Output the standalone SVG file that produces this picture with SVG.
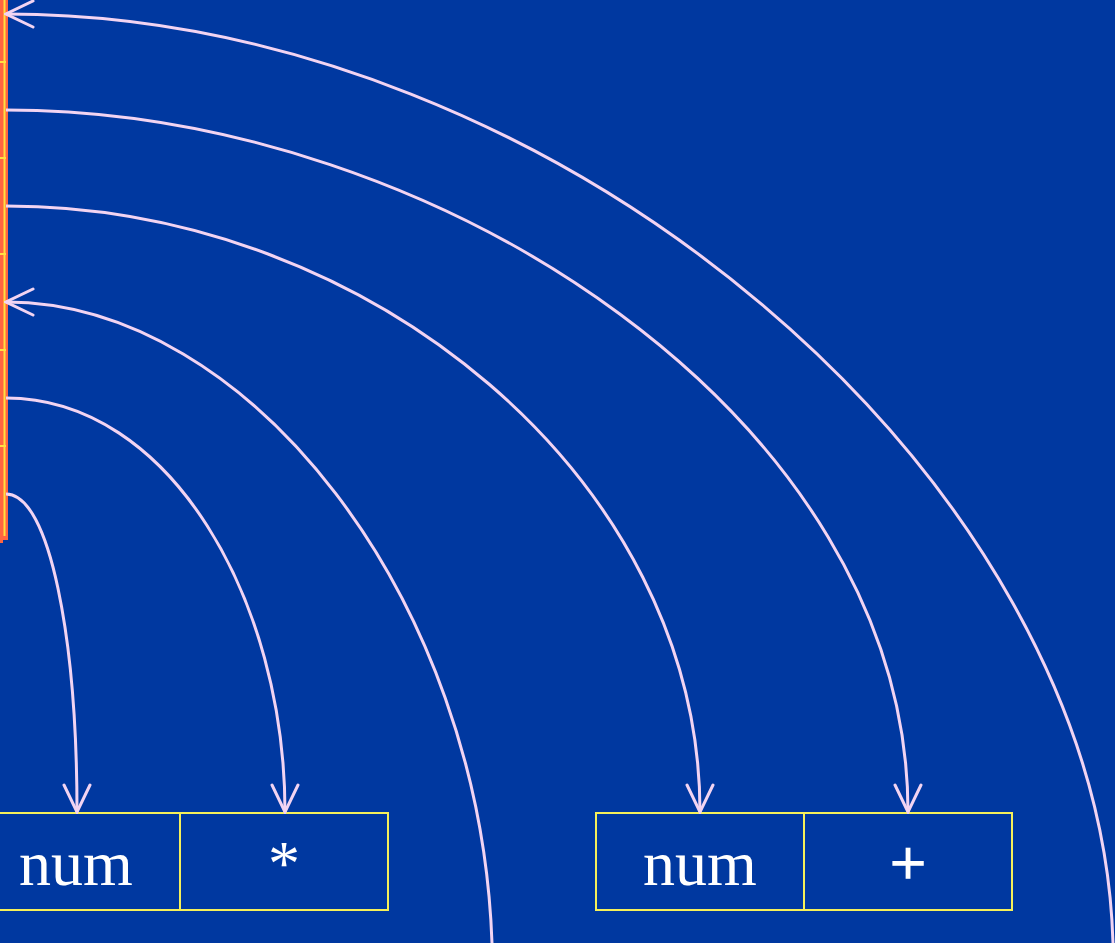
<svg xmlns="http://www.w3.org/2000/svg" width="1115" height="943" viewBox="0 0 1115 943">
<style>
.c{fill:none;stroke:#F2D4F2;stroke-width:3;}
.b{fill:none;stroke:#F5F05A;stroke-width:2;}
.t{font-family:"Liberation Serif","Times New Roman",serif;font-size:64px;fill:#FFFFFF;text-anchor:middle;}
</style>
<defs>
<marker id="ah" viewBox="-30 -15 32 30" refX="0" refY="0" markerWidth="32" markerHeight="30" markerUnits="userSpaceOnUse" orient="auto">
<path d="M-27,-13 L0,0 L-27,13" fill="none" stroke="#F2D4F2" stroke-width="3" stroke-linecap="round"/>
</marker>
</defs>
<rect width="1115" height="943" fill="#0038A0"/>
<g id="stack">
<rect x="0" y="0" width="8" height="540" fill="#FF6640"/>
<rect x="0" y="540" width="3" height="3" fill="#FF6640"/>
<line x1="4.5" y1="0" x2="4.5" y2="536" stroke="#FFE040" stroke-width="2"/>
<g stroke="#FFE040" stroke-width="2">
<line x1="0" y1="62" x2="6" y2="62"/>
<line x1="0" y1="158" x2="6" y2="158"/>
<line x1="0" y1="254" x2="6" y2="254"/>
<line x1="0" y1="350" x2="6" y2="350"/>
<line x1="0" y1="446" x2="6" y2="446"/>
</g>
</g>
<g id="box1">
<rect class="b" x="-30" y="813" width="210" height="97"/>
<text class="t" x="76" y="885">num</text>
</g>
<g id="box2">
<rect class="b" x="180" y="813" width="208" height="97"/>
<text class="t" x="284" y="885">*</text>
</g>
<g id="box3">
<rect class="b" x="596" y="813" width="208" height="97"/>
<text class="t" x="700" y="885">num</text>
</g>
<g id="box4">
<rect class="b" x="804" y="813" width="208" height="97"/>
<text class="t" x="908" y="885" stroke="#FFFFFF" stroke-width="1.5">+</text>
</g>
<g id="connectors">
<path class="c" d="M1113,943 C1100,480 560,14 6,14" marker-end="url(#ah)"/>
<path class="c" d="M6,110 C440,110 908,420 908,812" marker-end="url(#ah)"/>
<path class="c" d="M6,206 C370,206 700,480 700,812" marker-end="url(#ah)"/>
<path class="c" d="M492,943 C480,600 250,302 6,302" marker-end="url(#ah)"/>
<path class="c" d="M6,398 C170,398 285,600 285,812" marker-end="url(#ah)"/>
<path class="c" d="M6,494 C50,494 77,640 77,812" marker-end="url(#ah)"/>
</g>
</svg>
